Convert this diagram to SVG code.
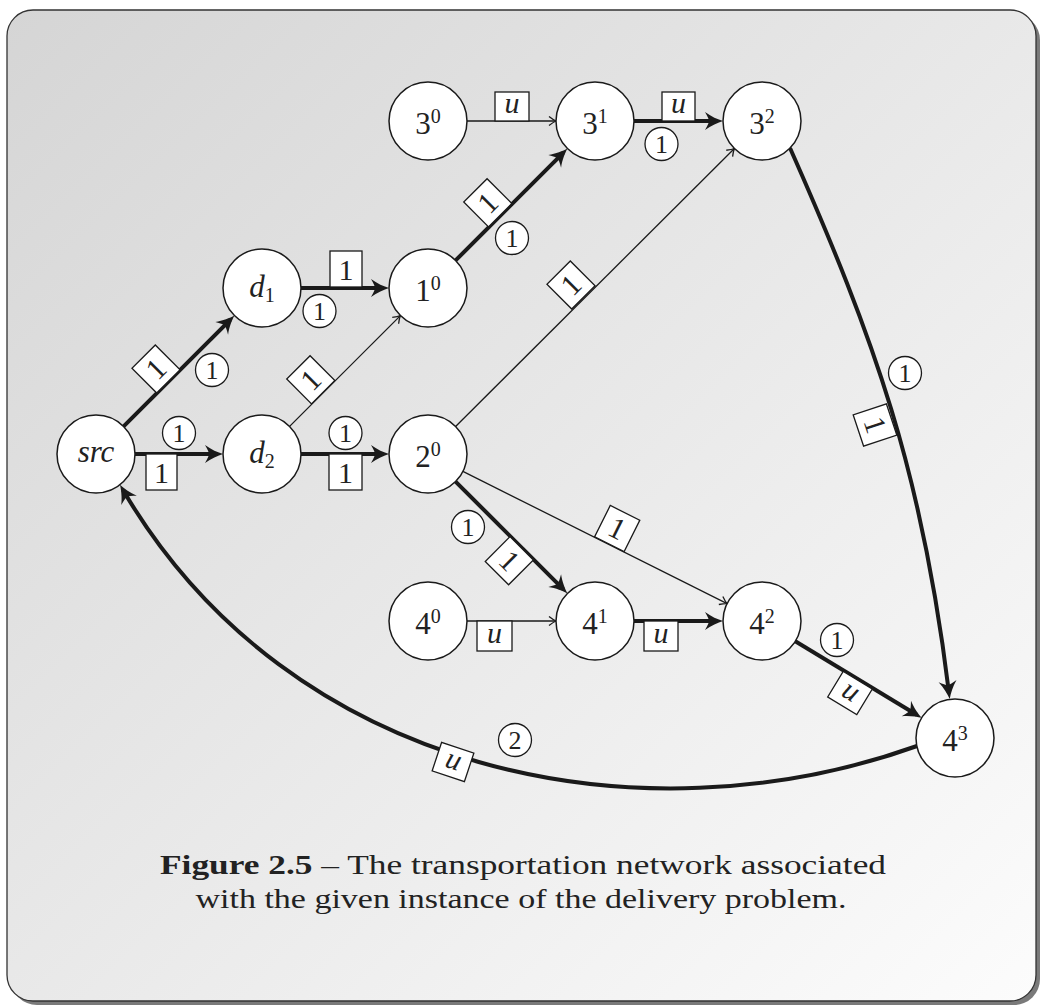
<svg xmlns="http://www.w3.org/2000/svg" width="1041" height="1007" viewBox="0 0 1041 1007">
<style>
.n{fill:#fff;stroke:#1a1a1a;stroke-width:1.5}
text{font-family:"Liberation Serif","Times New Roman",Times,serif;fill:#222}
.nt{font-size:31px;text-anchor:middle}
.sup{font-size:20px}
.it{font-style:italic}
.thick{fill:none;stroke:#1a1a1a;stroke-width:4}
.thin{fill:none;stroke:#1a1a1a;stroke-width:1.3}
.lb{fill:#fff;stroke:#1a1a1a;stroke-width:1.3}
.lt{font-size:30px;text-anchor:middle}
.ct{font-size:26px;text-anchor:middle}
.cap{font-size:28px;text-anchor:middle}
</style>
<defs>
<linearGradient id="bg" x1="0" y1="0" x2="1" y2="1">
<stop offset="0" stop-color="#d5d5d5"/>
<stop offset="1" stop-color="#fcfcfc"/>
</linearGradient>
<marker id="ak" markerUnits="userSpaceOnUse" viewBox="-14 -10 22 20" refX="0" refY="0" markerWidth="22" markerHeight="20" orient="auto" overflow="visible">
<path d="M6,0 C1,-1.5 -6,-4.5 -12,-9 C-9.5,-4.5 -8,-2 -8,0 C-8,2 -9.5,4.5 -12,9 C-6,4.5 1,1.5 6,0 Z" fill="#1a1a1a"/>
</marker>
<marker id="at" markerUnits="userSpaceOnUse" viewBox="-10 -6 12 12" refX="0" refY="0" markerWidth="12" markerHeight="12" orient="auto" overflow="visible">
<path d="M-7,-4.5 Q-2.5,-1 0,0 Q-2.5,1 -7,4.5" fill="none" stroke="#1a1a1a" stroke-width="1.3"/>
</marker>
</defs>

<g id="frame">
<rect x="11" y="14" width="1029" height="991" rx="26" fill="#7a7a7a"/>
<rect x="7" y="10" width="1029" height="991" rx="26" fill="url(#bg)" stroke="#333" stroke-width="1.3"/>
</g>

<g id="connectors">
<line class="thin" x1="467" y1="121" x2="556" y2="121" marker-end="url(#at)"/>
<line class="thick" x1="634" y1="121" x2="717" y2="121" marker-end="url(#ak)"/>
<line class="thick" x1="123.6" y1="426.4" x2="230.2" y2="319.8" marker-end="url(#ak)"/>
<line class="thick" x1="135" y1="454" x2="217" y2="454" marker-end="url(#ak)"/>
<line class="thick" x1="301" y1="288" x2="383" y2="288" marker-end="url(#ak)"/>
<line class="thick" x1="301" y1="454" x2="383" y2="454" marker-end="url(#ak)"/>
<line class="thin" x1="289.6" y1="426.4" x2="400.4" y2="315.6" marker-end="url(#at)"/>
<line class="thick" x1="455.6" y1="260.4" x2="563.2" y2="152.8" marker-end="url(#ak)"/>
<line class="thin" x1="455.6" y1="426.5" x2="734.4" y2="148.5" marker-end="url(#at)"/>
<line class="thick" x1="455.6" y1="481.6" x2="563.2" y2="589.2" marker-end="url(#ak)"/>
<line class="thin" x1="462.9" y1="471.4" x2="727.1" y2="603.6" marker-end="url(#at)"/>
<line class="thin" x1="467" y1="621" x2="556" y2="621" marker-end="url(#at)"/>
<line class="thick" x1="634" y1="621" x2="717" y2="621" marker-end="url(#ak)"/>
<line class="thick" x1="795.3" y1="641.2" x2="916.6" y2="714.7" marker-end="url(#ak)"/>
<path class="thick" d="M790,148 C875,340 922,471 949,693" marker-end="url(#ak)"/>
<path class="thick" d="M917,746 C640,845 290,775 123,490" marker-end="url(#ak)"/>

<rect class="lb" x="495" y="92" width="34" height="29"/>
<text class="lt it" x="512" y="113">u</text>
<rect class="lb" x="662" y="92" width="33" height="29"/>
<text class="lt it" x="678.5" y="113">u</text>
<circle class="lb" cx="661.5" cy="144" r="16.5"/>
<text class="ct" x="661.5" y="153">1</text>

<rect class="lb" x="330" y="251" width="32" height="36"/>
<text class="lt" x="346" y="280">1</text>
<circle class="lb" cx="319.5" cy="311" r="16.5"/>
<text class="ct" x="319.5" y="320">1</text>

<rect class="lb" x="146" y="454" width="31" height="36"/>
<text class="lt" x="161.5" y="483">1</text>
<circle class="lb" cx="179" cy="433" r="16.5"/>
<text class="ct" x="179" y="442">1</text>

<rect class="lb" x="329" y="454" width="33" height="36"/>
<text class="lt" x="345.5" y="483">1</text>
<circle class="lb" cx="345.5" cy="433" r="16.5"/>
<text class="ct" x="345.5" y="442">1</text>

<g transform="translate(156,369) rotate(-45)">
<rect class="lb" x="-16.5" y="-17.5" width="33" height="35"/>
<text class="lt" x="0" y="10">1</text>
</g>
<circle class="lb" cx="212" cy="370" r="16.5"/>
<text class="ct" x="212" y="379">1</text>

<g transform="translate(310.8,379.8) rotate(-45)">
<rect class="lb" x="-16.5" y="-17.5" width="33" height="35"/>
<text class="lt" x="0" y="10">1</text>
</g>

<g transform="translate(487.8,202.8) rotate(-45)">
<rect class="lb" x="-16.5" y="-17.5" width="33" height="35"/>
<text class="lt" x="0" y="10">1</text>
</g>
<circle class="lb" cx="512" cy="238" r="16.5"/>
<text class="ct" x="512" y="247">1</text>

<g transform="translate(571,285) rotate(-45)">
<rect class="lb" x="-16.5" y="-17.5" width="33" height="35"/>
<text class="lt" x="0" y="10">1</text>
</g>

<g transform="translate(509.3,560.7) rotate(45)">
<rect class="lb" x="-16.5" y="-17.5" width="33" height="35"/>
<text class="lt" x="0" y="10">1</text>
</g>
<circle class="lb" cx="468" cy="527" r="16.5"/>
<text class="ct" x="468" y="536">1</text>

<g transform="translate(617.2,528.5) rotate(26.57)">
<rect class="lb" x="-16.5" y="-17.5" width="33" height="35"/>
<text class="lt" x="0" y="10">1</text>
</g>

<rect class="lb" x="477" y="621" width="35" height="30"/>
<text class="lt it" x="494.5" y="643">u</text>
<rect class="lb" x="644" y="621" width="34" height="30"/>
<text class="lt it" x="661" y="643">u</text>

<g transform="translate(850,693) rotate(31.2)">
<rect class="lb" x="-17" y="-15" width="34" height="30"/>
<text class="lt it" x="0" y="7">u</text>
</g>
<circle class="lb" cx="837" cy="640" r="16.5"/>
<text class="ct" x="837" y="649">1</text>

<g transform="translate(875,425) rotate(71.6)">
<rect class="lb" x="-16.5" y="-17.5" width="33" height="35"/>
<text class="lt" x="0" y="10">1</text>
</g>
<circle class="lb" cx="905" cy="373" r="16.5"/>
<text class="ct" x="905" y="382">1</text>

<g transform="translate(453,762) rotate(18.4)">
<rect class="lb" x="-17" y="-15" width="34" height="30"/>
<text class="lt it" x="0" y="7">u</text>
</g>
<circle class="lb" cx="515" cy="740" r="16.5"/>
<text class="ct" x="515" y="749">2</text>
</g>

<g id="n-src"><circle class="n" cx="96" cy="454" r="39"/><text class="nt it" x="96" y="462">src</text></g>
<g id="n-d1"><circle class="n" cx="262" cy="288" r="39"/><text class="nt it" x="262" y="297">d<tspan class="sup" font-style="normal" dy="5">1</tspan></text></g>
<g id="n-d2"><circle class="n" cx="262" cy="454" r="39"/><text class="nt it" x="262" y="463">d<tspan class="sup" font-style="normal" dy="5">2</tspan></text></g>
<g id="n-10"><circle class="n" cx="428" cy="288" r="39"/><text class="nt" x="428" y="301">1<tspan class="sup" dy="-11">0</tspan></text></g>
<g id="n-20"><circle class="n" cx="428" cy="454" r="39"/><text class="nt" x="428" y="467">2<tspan class="sup" dy="-11">0</tspan></text></g>
<g id="n-30"><circle class="n" cx="428" cy="121" r="39"/><text class="nt" x="428" y="134">3<tspan class="sup" dy="-11">0</tspan></text></g>
<g id="n-31"><circle class="n" cx="595" cy="121" r="39"/><text class="nt" x="595" y="134">3<tspan class="sup" dy="-11">1</tspan></text></g>
<g id="n-32"><circle class="n" cx="762" cy="121" r="39"/><text class="nt" x="762" y="134">3<tspan class="sup" dy="-11">2</tspan></text></g>
<g id="n-40"><circle class="n" cx="428" cy="621" r="39"/><text class="nt" x="428" y="634">4<tspan class="sup" dy="-11">0</tspan></text></g>
<g id="n-41"><circle class="n" cx="595" cy="621" r="39"/><text class="nt" x="595" y="634">4<tspan class="sup" dy="-11">1</tspan></text></g>
<g id="n-42"><circle class="n" cx="762" cy="621" r="39"/><text class="nt" x="762" y="634">4<tspan class="sup" dy="-11">2</tspan></text></g>
<g id="n-43"><circle class="n" cx="955" cy="738" r="39"/><text class="nt" x="955" y="751">4<tspan class="sup" dy="-11">3</tspan></text></g>

<g id="caption">
<text class="cap" x="523" y="874" textLength="726" lengthAdjust="spacingAndGlyphs"><tspan font-weight="bold">Figure 2.5</tspan> – The transportation network associated</text>
<text class="cap" x="521" y="908" textLength="651" lengthAdjust="spacingAndGlyphs">with the given instance of the delivery problem.</text>
</g>
</svg>
